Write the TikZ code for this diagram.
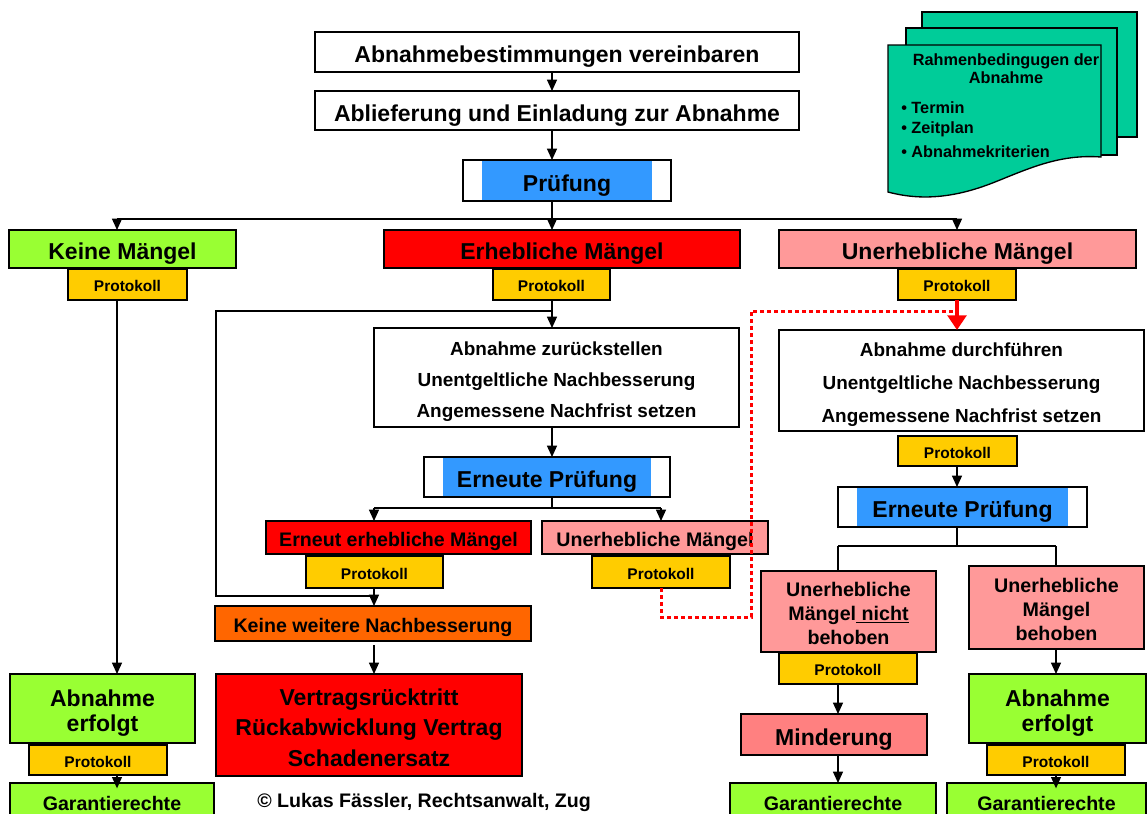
\documentclass[tikz,border=0pt]{standalone}
\usepackage{fontspec}
\setmainfont{Liberation Sans}
\usetikzlibrary{arrows.meta}
\definecolor{cgreen}{HTML}{99FF33}
\definecolor{cred}{HTML}{FF0000}
\definecolor{cpink}{HTML}{FF9999}
\definecolor{cyel}{HTML}{FFCC00}
\definecolor{cblue}{HTML}{3399FF}
\definecolor{corange}{HTML}{FF6600}
\definecolor{cmind}{HTML}{FF8080}
\definecolor{cteal}{HTML}{00CC99}
\newcommand\fL{\bfseries\fontsize{17.25}{20}\selectfont}
\newcommand\fM{\bfseries\fontsize{14.7}{17}\selectfont}
\newcommand\fS{\bfseries\fontsize{11.6}{13}\selectfont}
\newcommand\fD{\bfseries\fontsize{12.2}{13.5}\selectfont}
\newcommand\bx[7][]{%
  \pgfmathsetmacro\bxcx{(#2+#4)/2}%
  \pgfmathsetmacro\bxcy{(#3+#5)/2}%
  \pgfmathsetmacro\bxw{(#4-#2)*0.75}%
  \pgfmathsetmacro\bxh{(#5-#3)*0.75}%
  \node[#1, minimum width=\bxw pt, minimum height=\bxh pt] (#6) at (\bxcx,\bxcy) {#7};}
\begin{document}
\begin{tikzpicture}[x=0.75pt,y=-0.75pt,
  box/.style={draw=black, line width=1pt, inner sep=0pt, outer sep=0pt, align=center},
  tL/.style={font=\fL, text height=16.2pt, text depth=0pt},
  tM/.style={font=\fM, text height=13.8pt, text depth=0pt},
  wbox/.style={box, fill=white},
  gbox/.style={box, fill=cgreen},
  rbox/.style={box, fill=cred},
  pbox/.style={box, fill=cpink},
  obox/.style={box, fill=corange},
  mbox/.style={box, fill=cmind},
  prot/.style={box, fill=cyel, font=\fS, text height=10.9pt, text depth=0pt},
  pframe/.style={box, fill=white, tL, path picture={\fill[cblue] ([xshift=14.5pt]path picture bounding box.south west) rectangle ([xshift=-14.5pt]path picture bounding box.north east);}},
  ln/.style={line width=0.9pt},
  arr/.style={ln, -{Triangle[width=7.5pt,length=8.5pt]}},
  reddot/.style={draw=cred, line width=2.25pt, dash pattern=on 3pt off 2.25pt},
  redarr/.style={draw=cred, line width=3pt, -{Triangle[width=14pt,length=11pt]}},
  sheet/.style={draw=black, line width=1pt, fill=cteal}
]
\useasboundingbox (0,0) rectangle (1147,814);
\clip (0,0) rectangle (1147,814);

% document stack
\path[sheet] (922,12) rectangle (1137,137);
\path[sheet] (906,28) rectangle (1117,155);
\path[sheet] (888,45) -- (1101,45) -- (1101,157) .. controls (1060,154) and (1030,168) .. (995,182) .. controls (960,196) and (925,202) .. (888,192) -- cycle;
\node[font=\fD, align=center, inner sep=0pt] (dtitle) at (1006,69) {Rahmenbedingugen der\\Abnahme};
\node[font=\fD, anchor=west, inner sep=0pt] (dt1) at (901,108) {• Termin};
\node[font=\fD, anchor=west, inner sep=0pt] (dt2) at (901,129) {• Zeitplan};
\node[font=\fD, anchor=west, inner sep=0pt] (dt3) at (901,152) {• Abnahmekriterien};

% helper coordinates
\coordinate (xS) at (552,0);
\coordinate (xL) at (117,0);
\coordinate (xR) at (957,0);
\coordinate (xM) at (374,0);
\coordinate (xMR) at (661,0);
\coordinate (xN) at (838,0);
\coordinate (xB) at (1056,0);
\coordinate (xloop) at (216,0);
\coordinate (xred) at (751,0);
\coordinate (yb1) at (0,219);
\coordinate (yloop) at (0,311);
\coordinate (yb2) at (0,508);
\coordinate (yloopb) at (0,596);
\coordinate (yred) at (0,617);
\coordinate (yb3) at (0,546);

% boxes
\bx[wbox,tL]{315}{32}{799}{72}{b1}{Abnahmebestimmungen vereinbaren}
\bx[wbox,tL]{315}{91}{799}{130}{b2}{Ablieferung und Einladung zur Abnahme}
\bx[pframe]{463}{160}{671}{201}{prf}{Prüfung}

\bx[gbox,tL]{9}{230}{236}{268}{km}{Keine Mängel}
\bx[prot]{68}{269}{187}{300}{kmp}{Protokoll}
\bx[rbox,tL]{384}{230}{740}{268}{em}{Erhebliche Mängel}
\bx[prot]{493}{269}{610}{300}{emp}{Protokoll}
\bx[pbox,tL]{779}{230}{1136}{268}{um}{Unerhebliche Mängel}
\bx[prot]{898}{269}{1016}{300}{ump}{Protokoll}

\bx[wbox,font={\bfseries\fontsize{14.2}{23.25}\selectfont}]{374}{328}{739}{427}{az}{\rule{0pt}{16.3pt}Abnahme zurückstellen\\Unentgeltliche Nachbesserung\\Angemessene Nachfrist setzen}
\bx[pframe]{424}{457}{670}{497}{ep}{Erneute Prüfung}
\bx[rbox,tM]{266}{521}{531}{554}{eem}{Erneut erhebliche Mängel}
\bx[prot]{306}{556}{443}{588}{eemp}{Protokoll}
\bx[pbox,tM]{542}{521}{768}{554}{umm}{Unerhebliche Mängel}
\bx[prot]{592}{556}{730}{588}{ummp}{Protokoll}
\bx[obox,tM]{215}{606}{531}{641}{kwn}{Keine weitere Nachbesserung}
\bx[rbox,font={\bfseries\fontsize{17.25}{23}\selectfont}]{216}{674}{522}{776}{vr}{\rule{0pt}{16.2pt}Vertragsrücktritt\\Rückabwicklung Vertrag\\Schadenersatz}

\bx[wbox,font={\bfseries\fontsize{14.2}{24.5}\selectfont}]{779}{330}{1144}{431}{ad}{\rule{0pt}{16.3pt}Abnahme durchführen\\Unentgeltliche Nachbesserung\\Angemessene Nachfrist setzen}
\bx[prot]{898}{436}{1017}{466}{adp}{Protokoll}
\bx[pframe]{838}{487}{1087}{527}{epr}{Erneute Prüfung}
\bx[pbox,font={\bfseries\fontsize{14.75}{18}\selectfont}]{761}{571}{936}{652}{nb}{\rule{0pt}{13.9pt}Unerhebliche\\Mängel\underline{\ nicht}\\behoben}
\bx[pbox,font={\bfseries\fontsize{14.75}{18}\selectfont}]{969}{566}{1144}{649}{beh}{\rule{0pt}{13.9pt}Unerhebliche\\Mängel\\behoben}
\bx[prot]{779}{653}{917}{684}{nbp}{Protokoll}
\bx[mbox,tL]{741}{714}{927}{755}{mind}{Minderung}
\bx[gbox,tM]{730}{783}{936}{819}{g2}{Garantierechte}
\bx[gbox,font={\bfseries\fontsize{17.25}{19}\selectfont}]{969}{674}{1146}{743}{aer}{\rule{0pt}{19.8pt}Abnahme\\erfolgt}
\bx[prot]{987}{745}{1125}{775}{aerp}{Protokoll}
\bx[gbox,tM]{947}{783}{1146}{819}{g3}{Garantierechte}

\bx[gbox,font={\bfseries\fontsize{17.25}{19}\selectfont}]{10}{674}{195}{743}{ael}{\rule{0pt}{19.8pt}Abnahme\\erfolgt}
\bx[prot]{29}{745}{167}{775}{aelp}{Protokoll}
\bx[gbox,tM]{10}{783}{214}{819}{g1}{Garantierechte}

\node[font=\fM, anchor=west, inner sep=0pt] (copy) at (257,802) {© Lukas Fässler, Rechtsanwalt, Zug};

% connectors
\draw[arr] (b1.south -| xS) -- (b2.north -| xS);
\draw[arr] (b2.south -| xS) -- (prf.north -| xS);
\draw[ln] (prf.south -| xS) -- (yb1 -| xS);
\draw[ln] (yb1 -| xL) -- (yb1 -| xR);
\draw[arr] (yb1 -| xL) -- (km.north -| xL);
\draw[arr] (yb1 -| xS) -- (em.north -| xS);
\draw[arr] (yb1 -| xR) -- (um.north -| xR);
\draw[arr] (kmp.south -| xL) -- (ael.north -| xL);
\draw[arr] (emp.south -| xS) -- (az.north -| xS);
\draw[ln] (yloop -| xS) -- (yloop -| xloop) -- (yloopb -| xloop) -- (yloopb -| xM);
\draw[arr] (eemp.south -| xM) -- (kwn.north -| xM);
\draw[arr] (az.south -| xS) -- (ep.north -| xS);
\draw[ln] (ep.south -| xS) -- (yb2 -| xS);
\draw[ln] (yb2 -| xM) -- (yb2 -| xMR);
\draw[arr] (yb2 -| xM) -- (eem.north -| xM);
\draw[arr] (yb2 -| xMR) -- (umm.north -| xMR);
\draw[arr, shorten <=3pt] (kwn.south -| xM) -- (vr.north -| xM);
\draw[reddot] (ummp.south -| xMR) -- (yred -| xMR) -- (yred -| xred) -- (yloop -| xred) -- (yloop -| xR);
\draw[redarr] (ump.south -| xR) -- (ad.north -| xR);
\draw[arr] (adp.south -| xR) -- (epr.north -| xR);
\draw[ln] (epr.south -| xR) -- (yb3 -| xR);
\draw[ln] (yb3 -| xN) -- (yb3 -| xB);
\draw[ln] (yb3 -| xN) -- (nb.north -| xN);
\draw[ln] (yb3 -| xB) -- (beh.north -| xB);
\draw[arr] (nbp.south -| xN) -- (mind.north -| xN);
\draw[arr] (mind.south -| xN) -- (g2.north -| xN);
\draw[arr] (beh.south -| xB) -- (aer.north -| xB);
\draw[arr, shorten >=-4pt] (aerp.south -| xB) -- (g3.north -| xB);
\draw[arr, shorten >=-4pt] (aelp.south -| xL) -- (g1.north -| xL);
\end{tikzpicture}
\end{document}
